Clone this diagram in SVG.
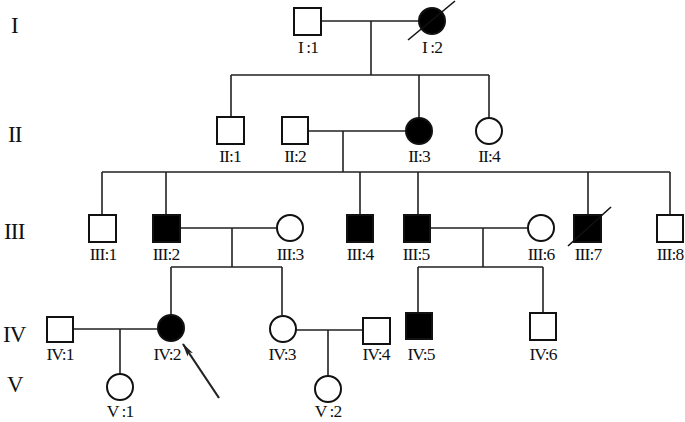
<svg xmlns="http://www.w3.org/2000/svg" width="685" height="422" viewBox="0 0 685 422">
<style>
.ln{stroke:#222;stroke-width:1.6;fill:none}
.m{stroke:#111;stroke-width:2;fill:#fff}
.a{stroke:#111;stroke-width:2;fill:#000}
.t{font-family:"Liberation Serif","Times New Roman",serif;font-size:17.5px;fill:#111;text-anchor:middle;letter-spacing:-0.9px}
.g{font-family:"Liberation Serif","Times New Roman",serif;font-size:23px;fill:#111;letter-spacing:-0.8px}
</style>
<defs>
<marker id="ah" viewBox="0 0 14 8" refX="13" refY="4" markerWidth="14" markerHeight="8" markerUnits="userSpaceOnUse" orient="auto">
<path d="M0,0.8 L14,4 L0,7.2 L3,4 Z" fill="#222"/>
</marker>
</defs>
<rect width="685" height="422" fill="#fff"/>
<g id="generations">
<text class="g" x="11" y="33">I</text>
<text class="g" x="8" y="142">II</text>
<text class="g" x="4" y="239">III</text>
<text class="g" x="3" y="342">IV</text>
<text class="g" x="7" y="392">V</text>
</g>
<g id="connectors">
<path class="ln" d="M321,21 H419 M371,21 V75 M231,75 H489 M231,75 V117 M419,75 V118 M489,75 V118"/>
<path class="ln" d="M308,131 H406 M343,131 V172 M102,172 H670 M102,172 V215 M166,172 V215 M360,172 V215 M418,172 V215 M588,172 V215 M670,172 V215"/>
<path class="ln" d="M180,228 H277 M232,228 V267 M171,267 H282 M171,267 V315 M282,267 V315"/>
<path class="ln" d="M431,228 H528 M483,228 V267 M418,267 H543 M418,267 V313 M543,267 V313"/>
<path class="ln" d="M73,329 H158 M120,329 V374"/>
<path class="ln" d="M296,330 H363 M328,330 V376"/>
<line x1="219" y1="398" x2="183" y2="344" stroke="#222" stroke-width="2.2" marker-end="url(#ah)"/>
</g>
<g id="I1"><rect class="m" x="294" y="8" width="27" height="27"/><text class="t" x="308" y="53">I :1</text></g>
<g id="I2"><circle class="a" cx="432" cy="21" r="13"/><line x1="408" y1="40" x2="455" y2="1" stroke="#111" stroke-width="1.6"/><text class="t" x="432" y="53">I :2</text></g>
<g id="II1"><rect class="m" x="217" y="117" width="27" height="27"/><text class="t" x="230" y="162">II:1</text></g>
<g id="II2"><rect class="m" x="282" y="117" width="26" height="27"/><text class="t" x="295" y="162">II:2</text></g>
<g id="II3"><circle class="a" cx="419" cy="131" r="13"/><text class="t" x="419" y="162">II:3</text></g>
<g id="II4"><circle class="m" cx="489" cy="131" r="13"/><text class="t" x="489" y="162">II:4</text></g>
<g id="III1"><rect class="m" x="89" y="215" width="27" height="27"/><text class="t" x="103" y="260">III:1</text></g>
<g id="III2"><rect class="a" x="153" y="215" width="27" height="27"/><text class="t" x="166" y="260">III:2</text></g>
<g id="III3"><circle class="m" cx="290" cy="228" r="13"/><text class="t" x="290" y="260">III:3</text></g>
<g id="III4"><rect class="a" x="347" y="215" width="26" height="27"/><text class="t" x="360" y="260">III:4</text></g>
<g id="III5"><rect class="a" x="404" y="215" width="26" height="27"/><text class="t" x="416" y="260">III:5</text></g>
<g id="III6"><circle class="m" cx="541" cy="228" r="13"/><text class="t" x="541" y="260">III:6</text></g>
<g id="III7"><rect class="a" x="574" y="215" width="27" height="27"/><line x1="568" y1="246" x2="611" y2="207" stroke="#111" stroke-width="1.6"/><text class="t" x="588" y="260">III:7</text></g>
<g id="III8"><rect class="m" x="657" y="215" width="26" height="27"/><text class="t" x="670" y="260">III:8</text></g>
<g id="IV1"><rect class="m" x="47" y="317" width="26" height="25"/><text class="t" x="60" y="360">IV:1</text></g>
<g id="IV2"><circle class="a" cx="171" cy="328" r="13"/><text class="t" x="167" y="360">IV:2</text></g>
<g id="IV3"><circle class="m" cx="283" cy="329" r="13"/><text class="t" x="282" y="360">IV:3</text></g>
<g id="IV4"><rect class="m" x="363" y="318" width="27" height="26"/><text class="t" x="376" y="360">IV:4</text></g>
<g id="IV5"><rect class="a" x="406" y="313" width="26" height="26"/><text class="t" x="421" y="360">IV:5</text></g>
<g id="IV6"><rect class="m" x="530" y="313" width="26" height="27"/><text class="t" x="543" y="360">IV:6</text></g>
<g id="V1"><circle class="m" cx="120" cy="387" r="13"/><text class="t" x="120" y="417">V :1</text></g>
<g id="V2"><circle class="m" cx="328" cy="389" r="13"/><text class="t" x="328" y="417">V :2</text></g>
</svg>
